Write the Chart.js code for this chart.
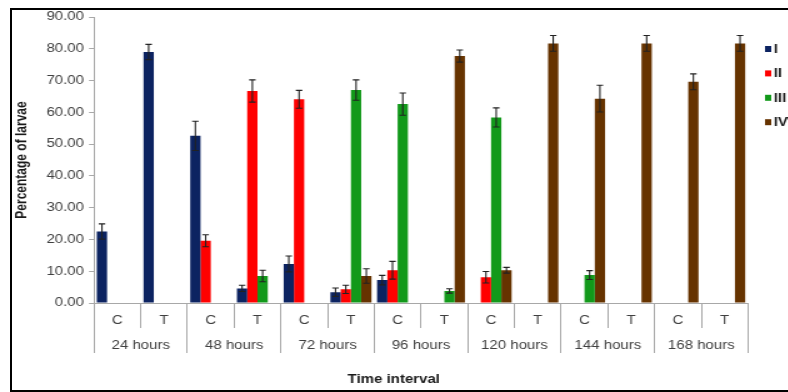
<!DOCTYPE html>
<html><head><meta charset="utf-8">
<script src="https://cdn.jsdelivr.net/npm/chart.js@4"></script>
<style>
html,body{margin:0;padding:0;background:#fff;overflow:hidden;width:788px;height:392px;}
#wrap{position:absolute;left:0;top:0;width:630px;height:392px;transform:scaleX(1.25);transform-origin:0 0;}
#frame{position:absolute;left:10px;top:8px;width:1000px;height:380px;border:2px solid #000;pointer-events:none;}
</style></head><body>
<div id="wrap"><canvas id="c" width="630" height="392"></canvas></div>
<div id="frame"></div>
<script>
const categories = ['C','T','C','T','C','T','C','T','C','T','C','T','C','T'];
const groups = ['24 hours','48 hours','72 hours','96 hours','120 hours','144 hours','168 hours'];
const yTicks = [0,10,20,30,40,50,60,70,80,90];
const seriesNames = ['I','II','III','IV'];
const seriesColors = ['#0c2361','#ff0000','#12991a','#663300'];
const xTitle = 'Time interval';
const yTitle = 'Percentage of larvae';

const stageI    = [22.5, 79.0, 52.6, 4.6, 12.3, 3.4, 7.2, null, null, null, null, null, null, null];
const stageIErr = [2.4, 2.4, 4.6, 1.0, 2.5, 1.3, 1.5, null, null, null, null, null, null, null];
const stageII    = [null, null, 19.6, 66.7, 64.1, 4.3, 10.3, null, 8.1, null, null, null, null, null];
const stageIIErr = [null, null, 1.9, 3.5, 2.8, 1.3, 2.8, null, 1.8, null, null, null, null, null];
const stageIII    = [null, null, null, 8.5, null, 67.0, 62.6, 3.8, 58.4, null, 8.8, null, null, null];
const stageIIIErr = [null, null, null, 1.8, null, 3.2, 3.5, 0.7, 3.0, null, 1.4, null, null, null];
const stageIV    = [null, null, null, null, null, 8.5, null, 77.7, 10.3, 81.7, 64.3, 81.7, 69.6, 81.7];
const stageIVErr = [null, null, null, null, null, 2.3, null, 1.9, 0.9, 2.5, 4.2, 2.5, 2.5, 2.5];

const values = [stageI, stageII, stageIII, stageIV];
const errors = [stageIErr, stageIIErr, stageIIIErr, stageIVErr];

const FONT = 'Liberation Sans, Arial, sans-serif';
const GRID = '#a8a8a8';

const errPlugin = {
  id: 'errbars',
  afterDatasetsDraw(chart) {
    const ctx = chart.ctx, y = chart.scales.y;
    ctx.save();
    ctx.strokeStyle = '#222';
    ctx.lineWidth = 1.1;
    chart.data.datasets.forEach((ds, i) => {
      const meta = chart.getDatasetMeta(i);
      meta.data.forEach((el, j) => {
        const v = ds.data[j], e = ds.errors[j];
        if (v == null || e == null) return;
        const x = el.x, t = y.getPixelForValue(v + e), b = y.getPixelForValue(v - e);
        ctx.beginPath();
        ctx.moveTo(x, t); ctx.lineTo(x, b);
        ctx.moveTo(x - 2.6, t); ctx.lineTo(x + 2.6, t);
        ctx.moveTo(x - 2.6, b); ctx.lineTo(x + 2.6, b);
        ctx.stroke();
      });
    });
    ctx.restore();
  }
};

const textPlugin = {
  id: 'sideLegendAndTitle',
  afterDraw(chart) {
    const ctx = chart.ctx;
    ctx.save();
    ctx.font = 'bold 12px ' + FONT;
    ctx.textBaseline = 'middle';
    ctx.textAlign = 'left';
    chart.data.datasets.forEach((ds, i) => {
      const cy = 49 + i * 24.4;
      ctx.fillStyle = ds.backgroundColor;
      ctx.fillRect(612, cy - 3, 5, 6);
      ctx.fillStyle = '#1a1a1a';
      ctx.fillText(ds.label, 619, cy + 0.5);
    });
    ctx.textAlign = 'center';
    ctx.fillStyle = '#1a1a1a';
    ctx.fillText(xTitle, chart.width / 2, 380);
    ctx.restore();
  }
};

new Chart(document.getElementById('c'), {
  type: 'bar',
  data: {
    labels: categories,
    datasets: seriesNames.map((n, i) => ({
      label: n,
      data: values[i],
      errors: errors[i],
      backgroundColor: seriesColors[i],
      borderWidth: 0,
      categoryPercentage: 0.88,
      barPercentage: 1.0
    }))
  },
  options: {
    responsive: false,
    animation: false,
    devicePixelRatio: 1,
    layout: { padding: { left: 0, right: 31.6, top: 17, bottom: 39 } },
    plugins: {
      legend: { display: false },
      tooltip: { enabled: false },
      title: { display: false }
    },
    scales: {
      y: {
        min: 0, max: 90,
        afterFit: s => { s.width = 75.2; },
        afterBuildTicks: s => { s.ticks = yTicks.map(v => ({ value: v })); },
        ticks: {
          color: '#404040', font: { family: FONT, size: 12 }, padding: 4,
          callback: v => Number(v).toFixed(2)
        },
        grid: { drawOnChartArea: false, drawTicks: true, tickLength: 4, color: GRID },
        border: { display: true, color: GRID },
        title: {
          display: true, text: yTitle, color: '#1a1a1a',
          font: { family: FONT, size: 12, weight: 'bold' }, padding: { top: 10.5, bottom: 0 }
        }
      },
      x: {
        offset: true,
        weight: 0,
        afterFit: s => { s.height = 25; },
        ticks: { color: '#404040', font: { family: FONT, size: 12 }, padding: -15, maxRotation: 0, autoSkip: false },
        grid: { offset: true, drawOnChartArea: false, drawTicks: true, tickLength: 25, color: GRID },
        border: { display: true, color: GRID }
      },
      x2: {
        type: 'category',
        labels: groups,
        position: 'bottom',
        offset: true,
        weight: 1,
        afterFit: s => { s.height = 25; },
        ticks: { color: '#404040', font: { family: FONT, size: 12 }, padding: -15, maxRotation: 0, autoSkip: false },
        grid: { offset: true, drawOnChartArea: false, drawTicks: true, tickLength: 25, color: GRID },
        border: { display: false }
      }
    }
  },
  plugins: [errPlugin, textPlugin]
});
</script>
</body></html>
